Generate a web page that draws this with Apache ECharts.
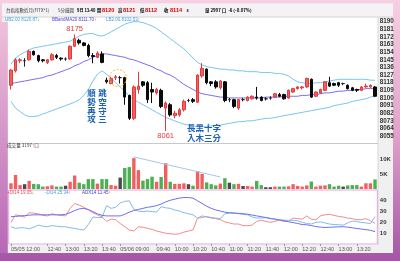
<!DOCTYPE html>
<html><head><meta charset="utf-8">
<script src="https://cdn.jsdelivr.net/npm/echarts@6/dist/echarts.min.js"></script>
<style>html,body{margin:0;padding:0;background:#fff}#c{width:400px;height:261px}</style>
</head><body><div id="c"></div>
<script>
const categories = [
'05/05 12:00','05/05 12:05','05/05 12:10','05/05 12:15','05/05 12:20','05/05 12:25','05/05 12:30','05/05 12:35','05/05 12:40','05/05 12:45','05/05 12:50','05/05 12:55','05/05 13:00','05/05 13:05','05/05 13:10','05/05 13:15','05/05 13:20','05/05 13:25','05/05 13:30','05/05 13:35','05/05 13:40',
'05/06 08:45','05/06 08:50','05/06 08:55','05/06 09:00','05/06 09:05','05/06 09:10','05/06 09:15','05/06 09:20','05/06 09:25','05/06 09:30','05/06 09:35','05/06 09:40','05/06 09:45','05/06 09:50','05/06 09:55',
'05/06 10:00','05/06 10:05','05/06 10:10','05/06 10:15','05/06 10:20','05/06 10:25','05/06 10:30','05/06 10:35','05/06 10:40','05/06 10:45','05/06 10:50','05/06 10:55',
'05/06 11:00','05/06 11:05','05/06 11:10','05/06 11:15','05/06 11:20','05/06 11:25','05/06 11:30','05/06 11:35','05/06 11:40','05/06 11:45','05/06 11:50','05/06 11:55',
'05/06 12:00','05/06 12:05','05/06 12:10','05/06 12:15','05/06 12:20','05/06 12:25','05/06 12:30','05/06 12:35','05/06 12:40','05/06 12:45','05/06 12:50','05/06 12:55',
'05/06 13:00','05/06 13:05','05/06 13:10','05/06 13:15','05/06 13:20','05/06 13:25','05/06 13:30','05/06 13:35','05/06 13:40'];

const openP = [8115,8132,8144,8144,8145,8155,8150,8145,8142,8145,8150,8147,8146,8146,8161,8168,8165,8162,8150,8148,8152,
8121,8117,8124,8124,8124,8103,8076,8110,8119,8118,8110,8106,8109,8088,8092,8079,8080,8086,8097,8098,
8095,8126,8134,8119,8119,8112,8119,8098,8098,8088,8098,8097,8099,8101,8101,8099,8100,8101,8104,8104,
8100,8107,8111,8112,8113,8122,8102,8106,8109,8118,8117,8118,8117,8115,8112,8110,8109,8113,8113,8113];
const closeP = [8133,8145,8145,8144,8155,8151,8144,8144,8145,8151,8148,8146,8146,8161,8170,8165,8162,8150,8149,8153,8142,
8119,8123,8125,8124,8101,8076,8113,8114,8115,8098,8107,8110,8090,8094,8080,8082,8086,8096,8097,8096,
8127,8135,8118,8117,8113,8120,8097,8098,8090,8098,8098,8101,8102,8100,8097,8099,8100,8105,8102,8099,
8109,8111,8113,8113,8123,8101,8107,8110,8119,8114,8115,8115,8117,8111,8109,8109,8113,8114,8115,8102];
const lowP = [8110,8130,8141,8137,8144,8150,8142,8142,8140,8144,8146,8144,8144,8145,8160,8163,8161,8148,8141,8147,8141,
8117,8116,8121,8117,8092,8074,8074,8105,8113,8094,8094,8104,8088,8061,8078,8076,8078,8084,8095,8094,
8094,8124,8116,8114,8111,8110,8095,8095,8088,8086,8096,8096,8098,8098,8096,8097,8098,8100,8101,8098,
8099,8106,8110,8110,8112,8100,8101,8105,8108,8113,8114,8113,8115,8110,8108,8107,8108,8112,8112,8101];
const highP = [8134,8147,8147,8147,8157,8156,8151,8146,8146,8153,8152,8148,8148,8162,8175,8170,8166,8164,8153,8155,8155,
8124,8125,8127,8126,8125,8104,8115,8131,8120,8120,8118,8112,8111,8096,8094,8085,8088,8098,8099,8100,
8128,8141,8135,8120,8121,8121,8120,8100,8099,8099,8100,8102,8103,8113,8102,8101,8102,8106,8106,8105,
8110,8112,8114,8114,8124,8123,8108,8111,8120,8125,8118,8119,8118,8116,8113,8111,8114,8117,8116,8114];

const volume = [1900,4700,1300,1600,2700,1700,1600,800,900,1200,800,800,1100,2400,4500,2100,1600,3300,3300,1800,3300,
3300,1300,1100,3800,7000,7300,10300,6300,2800,3300,4100,2400,4000,8600,2400,1700,1700,1900,1600,1100,
6000,5000,2200,1600,1200,1800,3600,2100,1600,1700,1000,1000,800,2700,1300,600,600,800,800,800,
900,1600,1000,800,1200,2500,800,1100,1200,1600,800,1100,800,1200,1300,1300,800,1900,1900,3200];

const bbUpper = [8140,8147,8151,8154,8157,8159,8160,8161,8162,8163,8164,8165,8166,8167,8170,8173,8175,8176,8176,8174,8173,
8175,8178,8181,8184,8187,8189,8190,8190,8189,8187,8185,8182,8178,8174,8170,8166,8162,8158,8153,8147,
8142,8139,8137,8136,8135,8134,8134,8133,8133,8132,8132,8131,8131,8131,8130,8130,8130,8129,8129,8128,
8126,8122,8119,8118,8117,8117,8118,8118,8119,8120,8121,8122,8122,8122,8122,8122,8122,8122,8121,8120.87];
const bbMid = [8117,8118,8119,8120,8121,8122,8123,8124,8126,8127,8129,8131,8133,8135,8138,8140,8143,8145,8148,8150,8152,
8152,8151,8150,8149,8148,8146,8145,8143,8141,8139,8137,8134,8132,8129,8127,8124,8120,8116,8113,8110,
8107,8105,8104,8103,8102,8101,8101,8100,8100,8100,8100,8100,8100,8100,8100,8101,8101,8101,8101,8102,
8102,8102,8102,8103,8103,8104,8104,8105,8106,8106,8107,8108,8108,8109,8109,8110,8110,8111,8111,8111.70];
const bbLower = [8096,8088,8084,8080,8078,8078,8079,8081,8083,8085,8087,8089,8091,8093,8095,8098,8103,8110,8120,8128,8132,
8128,8123,8118,8113,8108,8102,8098,8095,8092,8089,8086,8083,8080,8077,8075,8073,8071,8069,8068,8067,
8066,8066,8066,8067,8068,8068,8069,8070,8071,8072,8072,8073,8073,8074,8075,8076,8076,8077,8078,8079,
8080,8081,8082,8083,8084,8085,8086,8087,8088,8089,8091,8092,8093,8094,8096,8097,8098,8099,8101,8102.53];

const diPlus = [20,27,26,25,29,28.5,28,26.5,26,28,27,26.5,26,33,37.5,36,34,31.5,29,27,25,
21,23,22.5,19,16,13,12,16,15.5,14.5,13.5,12,11,10,9.5,9,9.5,11,12,13,
24,26,25,24,23.5,22.5,20.5,19.5,18.5,18.5,17,17,17.5,21,22,21,20,21,22,21,
21,24,23.5,23,26,23,22.5,26,27,27.5,26.5,25.5,25,24,23.5,22.5,22.5,23.5,21.5,19.05];
const diMinus = [16,14.5,15,15,14,15.5,17.5,16.5,16,17,16.5,16,16,15,14.5,13.5,13,18,25,24.5,24.5,
35.5,33,34,38,39.5,40,32,30.5,30,30.5,30,29.5,34.5,33.5,33,31.5,30.5,29,28,27,
24,24.5,25.5,24.5,24,23.5,28,28.5,28.5,28,27.5,27,25,24,24,24.5,23.5,23,22.5,22,
22,22,21.5,20,19,18.5,20,20.5,19.5,18.5,18,17.8,17.5,19.5,21.3,20.8,20,19.5,19,25.34];
const adx = [25.3,25.5,26,26.3,26.7,27,27,27,27,27,27,27,27.5,29,31,32.5,33,32,30,28,26.5,
26,26,26,26,27.5,29.5,31,32,33,34,34.6,35.5,37,39,40.5,41.5,42.5,43,43,42.5,
40,37.5,35,33,31.5,30.5,29.5,29,28.7,28.4,28,27.6,26.8,26,25.3,24.5,23.7,23,22.2,21.5,
20.6,19.8,19,18,17.8,17,16.2,15.6,15.3,15.5,15.7,15.9,16,15.6,15,14.4,13.8,13.3,12.7,11.45];

const priceTickLabels = [8055,8064,8073,8082,8091,8100,8109,8118,8127,8136,8145,8154,8163,8172,8181,8190];
const volTickLabels = {5000:'5K', 10000:'10K'};
const dmiTickLabels = [10,20,30,40];
const xTickAt = ['05/05 12:00','05/05 12:40','05/05 13:00','05/05 13:20','05/05 13:40','05/06 09:00','05/06 09:40','05/06 10:00','05/06 10:20','05/06 10:40','05/06 11:00','05/06 11:20','05/06 11:40','05/06 12:00','05/06 12:20','05/06 12:40','05/06 13:00','05/06 13:20'];
const xTickText = ['05/05 12:00','12:40','13:00','13:20','13:40','05/06 09:00','09:40','10:00','10:20','10:40','11:00','11:20','11:40','12:00','12:20','12:40','13:00','13:20'];
const extremeMarks = [['05/05 13:10',8175,'top'],['05/06 09:50',8061,'bottom']];
const volTrend = [['05/06 09:15',10700],['05/06 10:50',4000]];

const FONT = "'Liberation Sans','Noto Sans CJK TC',sans-serif";
const CJK = "'Noto Sans CJK TC','Liberation Sans',sans-serif";
const RED='#f25f5f', GREEN='#4cb050', DARK='#4a4a4a';

const candleData = categories.map((c,i)=>[openP[i],closeP[i],lowP[i],highP[i]]);
const volData = volume.map((v,i)=>({value:v, itemStyle:{color: closeP[i]>openP[i]?RED:(closeP[i]<openP[i]?GREEN:DARK)}}));

const gridL = 8.7, gridR = 22.7;
const isTick = (i,v)=>xTickAt.indexOf(v)>=0;
const hiddenX = (g)=>({type:'category',gridIndex:g,data:categories,boundaryGap:true,axisLine:{show:false},axisTick:{show:false},axisLabel:{show:false},splitLine:{show:false}});

function txt(x,y,text,style){return {type:'text',x:x,y:y,z:30,silent:true,style:Object.assign({text:text,fontFamily:FONT,align:'left',verticalAlign:'middle'},style)};}
const tb = {fontSize:4.4,fill:'#000',fontWeight:'bold',fontFamily:CJK};
const tr = {fontSize:5.6,fill:'#e00000',fontWeight:'bold'};

const graphics = [
  {type:'rect',z:-20,silent:true,shape:{x:0,y:0,width:400,height:261},style:{fill:{type:'linear',x:0,y:0,x2:0,y2:1,colorStops:[{offset:0,color:'#f6cfe2'},{offset:0.5,color:'#e3a3cc'},{offset:1,color:'#a455a6'}]}}},
  {type:'rect',z:-19,silent:true,shape:{x:2,y:3.5,width:391,height:249.5},style:{fill:'#f0f0f0'}},
  {type:'rect',z:-18,silent:true,shape:{x:2,y:3.5,width:391,height:13.5},style:{fill:'#f4f2f4'}},
  {type:'rect',z:-18,silent:true,shape:{x:0,y:22,width:7.8,height:231},style:{fill:{type:'linear',x:0,y:0,x2:0,y2:1,colorStops:[{offset:0,color:'#efc0da'},{offset:1,color:'#b868b6'}]}}},
  {type:'rect',z:-17,silent:true,shape:{x:8,y:17,width:370,height:228},style:{fill:'#ffffff'}},
  {type:'line',z:-16,silent:true,shape:{x1:2,y1:17,x2:393,y2:17},style:{stroke:'#d4d4d4',lineWidth:1}},
  {type:'line',z:-16,silent:true,shape:{x1:8,y1:143.5,x2:378,y2:143.5},style:{stroke:'#c8c8c8',lineWidth:1}},
  {type:'line',z:-16,silent:true,shape:{x1:378,y1:17,x2:378,y2:245},style:{stroke:'#d6d6d6',lineWidth:1}},
  // title bar
  txt(6,10.3,'台指指數近月(FITX*1)',{fontSize:4.5,fill:'#333',fontFamily:CJK}),
  txt(58,10.3,'5分鐘圖',{fontSize:4.5,fill:'#333',fontFamily:CJK}),
  txt(77,10.3,'9日 13:40',Object.assign({},tb,{fontSize:4.1})),
  txt(97,10.3,'開',tb), txt(102,10.3,'8120',tr),
  txt(118,10.3,'高',tb), txt(123,10.3,'8121',tr),
  txt(140,10.3,'低',tb), txt(145,10.3,'8112',tr),
  txt(164,10.3,'收',tb), txt(170,10.3,'8114',tr),
  txt(186.5,10.3,'s',tb),
  txt(205,10.3,'量 2997 口  -6 (-0.07%)',tb),
  // main legend
  txt(5,19.6,'{u|UB2.00 8120.87}{g|↓}',{rich:{u:{fill:'#3d9fe0',fontSize:4.5,fontFamily:FONT},g:{fill:'#1a9a3a',fontSize:4.5,fontWeight:'bold'}}}),
  txt(52,19.6,'{m|BBandMA20 8111.70}{r|↑}',{rich:{m:{fill:'#4b3fd0',fontSize:4.5,fontFamily:FONT},r:{fill:'#e00000',fontSize:4.5,fontWeight:'bold'}}}),
  txt(106,19.6,'{u|LB2.00 8102.53}{r|↑}',{rich:{u:{fill:'#3d9fe0',fontSize:4.5,fontFamily:FONT},r:{fill:'#e00000',fontSize:4.5,fontWeight:'bold'}}}),
  // volume legend
  txt(7,145.6,'{a|成交量 3197}{r|↑}{a|口}',{rich:{a:{fill:'#333',fontSize:4.6,fontFamily:CJK},r:{fill:'#e00000',fontSize:4.6,fontWeight:'bold'}}}),
  // dmi legend
  txt(7,192.6,'{p|+DI14 19.05}{g|↓}',{rich:{p:{fill:'#e84848',fontSize:4.5,fontFamily:FONT},g:{fill:'#1a9a3a',fontSize:4.5,fontWeight:'bold'}}}),
  txt(45,192.6,'{b|-DI14 25.34}{r|↑}',{rich:{b:{fill:'#3d9fe0',fontSize:4.5,fontFamily:FONT},r:{fill:'#e00000',fontSize:4.5,fontWeight:'bold'}}}),
  txt(82,192.6,'{a|ADX14 11.45}{r|↑}',{rich:{a:{fill:'#3a3ae0',fontSize:4.5,fontFamily:FONT},r:{fill:'#e00000',fontSize:4.5,fontWeight:'bold'}}}),
  // annotations
  txt(91.5,106,'順\n勢\n再\n攻',{fontSize:8.5,lineHeight:8.8,fill:'#1e62b0',fontWeight:'bold',fontFamily:CJK,align:'center'}),
  txt(102.5,106,'跳\n空\n守\n三',{fontSize:8.5,lineHeight:8.8,fill:'#1e62b0',fontWeight:'bold',fontFamily:CJK,align:'center'}),
  txt(187,127.5,'長黑十字',{fontSize:8.5,fill:'#1e62b0',fontWeight:'bold',fontFamily:CJK}),
  txt(187,138,'入木三分',{fontSize:8.5,fill:'#1e62b0',fontWeight:'bold',fontFamily:CJK}),
  {type:'circle',z:30,silent:true,shape:{cx:118,cy:78,r:8.5},style:{fill:'none',stroke:'#f0bf3a',lineWidth:1,lineDash:[2,1.5]}}
];

const option = {
  animation:false,
  backgroundColor:'transparent',
  graphic:graphics,
  grid:[
    {left:gridL,right:gridR,top:14.1,height:129.6},
    {left:gridL,right:gridR,top:144,height:45},
    {left:gridL,right:gridR,top:190,height:54,show:true,borderColor:'#e2a6e0',borderWidth:1,backgroundColor:'#ffffff'}
  ],
  xAxis:[hiddenX(0),hiddenX(1),
    {type:'category',gridIndex:2,data:categories,boundaryGap:true,axisLine:{show:false},
     axisTick:{show:true,alignWithLabel:true,interval:isTick,length:2,lineStyle:{color:'#999'}},
     axisLabel:{show:true,interval:isTick,formatter:(v)=>xTickText[xTickAt.indexOf(v)],align:'left',fontSize:5.5,color:'#555',margin:3,fontFamily:FONT},
     splitLine:{show:false}}],
  yAxis:[
    {type:'value',gridIndex:0,position:'right',min:8046,max:8199,interval:9,splitLine:{show:false},axisLine:{show:false},axisTick:{show:false},
     axisLabel:{margin:2.5,fontSize:6.3,fontWeight:'bold',color:'#333',fontFamily:FONT,formatter:(v)=>priceTickLabels.indexOf(v)>=0?String(v):''}},
    {type:'value',gridIndex:1,position:'right',min:0,max:15000,interval:5000,splitLine:{show:false},axisLine:{show:false},axisTick:{show:false},
     axisLabel:{margin:2.5,fontSize:6,fontWeight:'bold',color:'#333',fontFamily:FONT,formatter:(v)=>volTickLabels[v]||''}},
    {type:'value',gridIndex:2,position:'right',min:0,max:50,interval:10,splitLine:{show:false},axisLine:{show:false},axisTick:{show:false},
     axisLabel:{margin:2.5,fontSize:6,fontWeight:'bold',color:'#333',fontFamily:FONT,formatter:(v)=>dmiTickLabels.indexOf(v)>=0?String(v):''}}
  ],
  series:[
    {type:'line',name:'UB',xAxisIndex:0,yAxisIndex:0,data:bbUpper,showSymbol:false,lineStyle:{color:'#78c6ee',width:1},z:1},
    {type:'line',name:'MA',xAxisIndex:0,yAxisIndex:0,data:bbMid,showSymbol:false,lineStyle:{color:'#7a6cf0',width:1},z:1},
    {type:'line',name:'LB',xAxisIndex:0,yAxisIndex:0,data:bbLower,showSymbol:false,lineStyle:{color:'#78c6ee',width:1},z:1},
    {type:'candlestick',xAxisIndex:0,yAxisIndex:0,data:candleData,barWidth:3,z:3,
     itemStyle:{color:RED,color0:'#0a0a0a',borderColor:'#e03c3c',borderColor0:'#0a0a0a',borderColorDoji:'#222',borderWidth:1},
     markPoint:{symbol:'circle',symbolSize:1,itemStyle:{color:'rgba(0,0,0,0)'},
       label:{show:true,color:'#e03c3c',fontSize:7.5,fontFamily:FONT,formatter:(p)=>String(p.value)},
       data:extremeMarks.map(m=>({coord:[m[0],m[1]],value:m[1],label:{position:m[2],distance:1}}))}},
    {type:'bar',xAxisIndex:1,yAxisIndex:1,data:volData,barWidth:3.4,
     markLine:{silent:true,symbol:['none','none'],label:{show:false},lineStyle:{color:'#a9c6e6',width:1,type:'solid'},
       data:[[{coord:volTrend[0]},{coord:volTrend[1]}]]}},
    {type:'line',name:'+DI',xAxisIndex:2,yAxisIndex:2,data:diPlus,showSymbol:false,lineStyle:{color:'#f28b8b',width:1}},
    {type:'line',name:'-DI',xAxisIndex:2,yAxisIndex:2,data:diMinus,showSymbol:false,lineStyle:{color:'#7fbde8',width:1}},
    {type:'line',name:'ADX',xAxisIndex:2,yAxisIndex:2,data:adx,showSymbol:false,lineStyle:{color:'#6e6ef2',width:1}}
  ]
};
const chart = echarts.init(document.getElementById('c'),null,{renderer:'canvas',width:400,height:261});
chart.setOption(option);
</script>
</body></html>
